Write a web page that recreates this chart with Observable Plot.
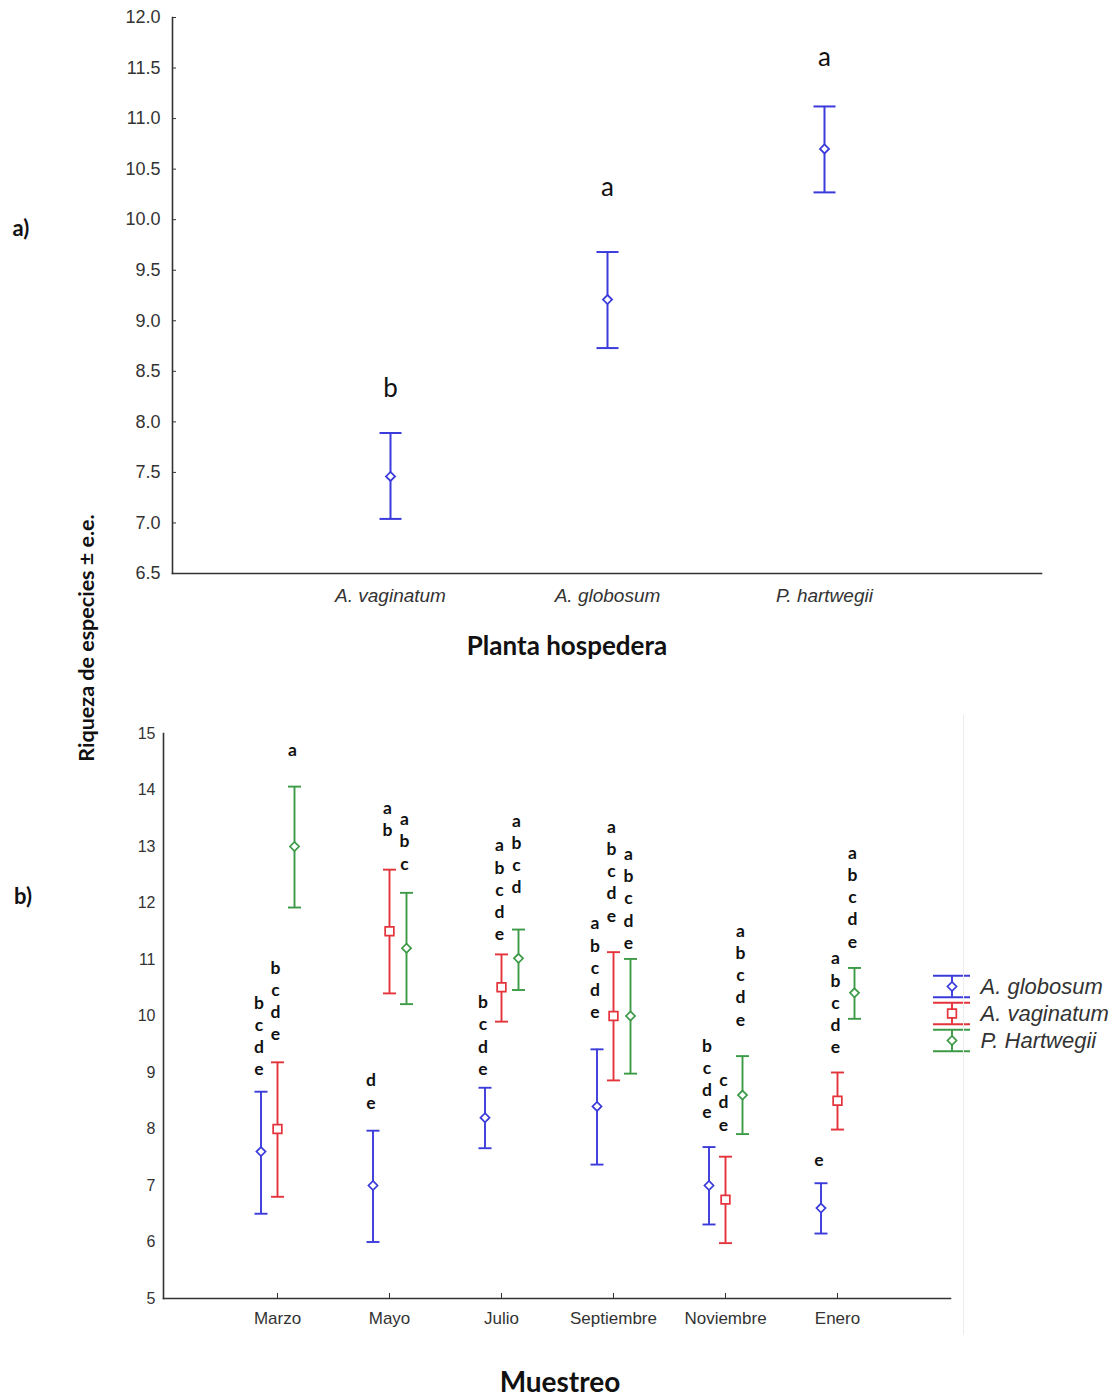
<!DOCTYPE html>
<html><head><meta charset="utf-8">
<script src="https://cdn.jsdelivr.net/npm/d3@7"></script>
<script src="https://cdn.jsdelivr.net/npm/@observablehq/plot@0.6"></script>
<style>
body{margin:0;background:#fff;}
#page{position:relative;width:1114px;height:1397px;overflow:hidden;background:#fff;}
#page svg{position:absolute;overflow:visible;}
.lbl{position:absolute;white-space:nowrap;line-height:1;font-family:Lato,"Open Sans",sans-serif;font-weight:700;color:#111;transform:translate(-50%,-50%);}
</style></head><body><div id="page"></div>
<script>
// ---------- data: panel a ----------
const hostPlants = ["A. vaginatum", "A. globosum", "P. hartwegii"];
const hostMean   = [7.46, 9.21, 10.70];
const hostUpper  = [7.89, 9.68, 11.12];
const hostLower  = [7.04, 8.73, 10.27];
const hostLetters = ["b", "a", "a"];
const hostLetterY = [8.33, 10.32, 11.60];
const hostTicks = [6.5, 7.0, 7.5, 8.0, 8.5, 9.0, 9.5, 10.0, 10.5, 11.0, 11.5, 12.0];

// ---------- data: panel b ----------
const months = ["Marzo", "Mayo", "Julio", "Septiembre", "Noviembre", "Enero"];
const seriesNames = ["A. globosum", "A. vaginatum", "P. Hartwegii"];
const globosumMean  = [7.60, 7.00, 8.20, 8.40, 7.00, 6.60];
const globosumUpper = [8.66, 7.97, 8.73, 9.41, 7.68, 7.04];
const globosumLower = [6.50, 6.00, 7.66, 7.37, 6.31, 6.15];
const vaginatumMean  = [8.00, 11.50, 10.51, 10.00, 6.75, 8.50];
const vaginatumUpper = [9.18, 12.59, 11.09, 11.13, 7.51, 9.00];
const vaginatumLower = [6.80, 10.40, 9.90, 8.86, 5.98, 7.99];
const hartwegiiMean  = [13.00, 11.20, 11.02, 10.00, 8.60, 10.41];
const hartwegiiUpper = [14.06, 12.18, 11.53, 11.01, 9.29, 10.85];
const hartwegiiLower = [11.92, 10.21, 10.46, 8.98, 7.91, 9.95];
const globosumLetters  = ["bcde", "de", "bcde", "abcde", "bcde", "e"];
const vaginatumLetters = ["bcde", "ab", "abcde", "abcde", "cde", "abcde"];
const hartwegiiLetters = ["a", "abc", "abcd", "abcde", "abcde", "abcde"];
const globosumLetterY  = [8.95, 8.36, 8.96, 9.96, 8.19, 7.35];
const vaginatumLetterY = [9.57, 13.18, 11.34, 11.67, 7.97, 9.34];
const hartwegiiLetterY = [14.61, 12.59, 12.17, 11.19, 9.83, 11.21];
const monthTicks = [5, 6, 7, 8, 9, 10, 11, 12, 13, 14, 15];

// ---------- styles ----------
const BLUE = "#3b3bdc", RED = "#e5333b", GREEN = "#3c9a46";
const AXIS = "#333";
const tickFont = "Liberation Sans, Arial, sans-serif";
const letterFont = "Lato, 'Open Sans', sans-serif";
const capSymbol = (hw) => ({draw(ctx) { ctx.moveTo(-hw, 0); ctx.lineTo(hw, 0); }});

const page = document.getElementById("page");
function place(svg, left, top) { svg.style.left = left + "px"; svg.style.top = top + "px"; page.appendChild(svg); }
function label(text, x, y, css) {
  const d = document.createElement("div"); d.className = "lbl"; d.textContent = text;
  d.style.left = x + "px"; d.style.top = y + "px"; Object.assign(d.style, css || {}); page.appendChild(d);
}

// ---------- panel a ----------
const dataA = hostPlants.map((p, i) => ({plant: p, mean: hostMean[i], upper: hostUpper[i], lower: hostLower[i], letter: hostLetters[i], letterY: hostLetterY[i]}));
const plotA = Plot.plot({
  width: 1114, height: 700, marginLeft: 172, marginRight: 73, marginTop: 17, marginBottom: 127,
  style: {fontFamily: tickFont, fontSize: "18px", color: AXIS, background: "transparent"},
  x: {type: "point", domain: hostPlants, padding: 1},
  y: {domain: [6.5, 12]},
  marks: [
    Plot.frame({anchor: "left", stroke: AXIS, strokeWidth: 1.6}),
    Plot.frame({anchor: "bottom", stroke: AXIS, strokeWidth: 1.6}),
    Plot.axisY({ticks: hostTicks, tickFormat: d3.format(".1f"), tickSize: -4, tickPadding: 16, fontSize: 18, label: null}),
    Plot.axisX({tickSize: 0, tickPadding: 15, fontSize: 19, fontStyle: "italic", label: null}),
    Plot.ruleX(dataA, {x: "plant", y1: "lower", y2: "upper", stroke: BLUE, strokeWidth: 2}),
    Plot.dot(dataA, {x: "plant", y: "upper", symbol: capSymbol(11), r: 1, fill: "none", stroke: BLUE, strokeWidth: 2}),
    Plot.dot(dataA, {x: "plant", y: "lower", symbol: capSymbol(11), r: 1, fill: "none", stroke: BLUE, strokeWidth: 2}),
    Plot.dot(dataA, {x: "plant", y: "mean", symbol: "diamond2", r: 4.1, fill: "white", stroke: BLUE, strokeWidth: 1.8}),
    Plot.text(dataA, {x: "plant", y: "letterY", text: "letter", fontSize: 26, fontFamily: letterFont, fill: "#111", lineAnchor: "middle"})
  ]
});
place(plotA, 0, 0);

// ---------- panel b ----------
const seriesCfg = [
  {mean: globosumMean, upper: globosumUpper, lower: globosumLower, letters: globosumLetters, letterY: globosumLetterY, color: BLUE, symbol: "diamond2", r: 4.1, dx: -16.5},
  {mean: vaginatumMean, upper: vaginatumUpper, lower: vaginatumLower, letters: vaginatumLetters, letterY: vaginatumLetterY, color: RED, symbol: "square", r: 4.9, dx: 0},
  {mean: hartwegiiMean, upper: hartwegiiUpper, lower: hartwegiiLower, letters: hartwegiiLetters, letterY: hartwegiiLetterY, color: GREEN, symbol: "diamond2", r: 4.1, dx: 17}
];
const marksB = [
  Plot.frame({anchor: "left", stroke: AXIS, strokeWidth: 1.6}),
  Plot.frame({anchor: "bottom", stroke: AXIS, strokeWidth: 1.6}),
  Plot.axisY({ticks: monthTicks, tickFormat: d => String(d), tickSize: 0, tickPadding: 8, fontSize: 16, label: null}),
  Plot.axisX({tickSize: -5, tickPadding: 18, fontSize: 17, label: null})
];
seriesCfg.forEach(s => {
  const data = months.map((m, i) => ({month: m, mean: s.mean[i], upper: s.upper[i], lower: s.lower[i], letters: s.letters[i], letterY: s.letterY[i]}));
  marksB.push(
    Plot.ruleX(data, {x: "month", y1: "lower", y2: "upper", dx: s.dx, stroke: s.color, strokeWidth: 1.9}),
    Plot.dot(data, {x: "month", y: "upper", dx: s.dx, symbol: capSymbol(6.5), r: 1, fill: "none", stroke: s.color, strokeWidth: 1.9}),
    Plot.dot(data, {x: "month", y: "lower", dx: s.dx, symbol: capSymbol(6.5), r: 1, fill: "none", stroke: s.color, strokeWidth: 1.9}),
    Plot.dot(data, {x: "month", y: "mean", dx: s.dx, symbol: s.symbol, r: s.r, fill: "white", stroke: s.color, strokeWidth: 1.7}),
    Plot.text(data, {x: "month", y: "letterY", dx: s.dx - 2, text: d => d.letters.split("").join("\n"), lineAnchor: "bottom", lineHeight: 1.27, fontSize: 17.5, fontWeight: "bold", fontFamily: letterFont, fill: "#111"})
  );
});
const plotB = Plot.plot({
  width: 1114, height: 697, marginLeft: 163, marginRight: 164, marginTop: 33, marginBottom: 99,
  style: {fontFamily: tickFont, fontSize: "16px", color: AXIS, background: "transparent"},
  x: {type: "point", domain: months, padding: 1},
  y: {domain: [5, 15]},
  marks: marksB
});
place(plotB, 0, 700);

// ---------- legend (panel b) ----------
const legendData = seriesNames.map((n, i) => ({name: n, i}));
const legendMarks = [];
seriesCfg.forEach((s, k) => {
  const d = [legendData[k]];
  legendMarks.push(
    Plot.ruleY(d, {y: e => e.i - 0.4, x1: 0, x2: 1, stroke: s.color, strokeWidth: 1.9}),
    Plot.ruleY(d, {y: e => e.i + 0.4, x1: 0, x2: 1, stroke: s.color, strokeWidth: 1.9}),
    Plot.ruleX(d, {x: 0.5, y1: e => e.i - 0.4, y2: e => e.i + 0.4, stroke: s.color, strokeWidth: 1.9}),
    Plot.dot(d, {x: 0.5, y: "i", symbol: s.symbol, r: s.r, fill: "white", stroke: s.color, strokeWidth: 1.7}),
    Plot.text(d, {x: 1, y: "i", dx: 10, text: "name", textAnchor: "start", fontSize: 22, fontStyle: "italic", fontFamily: tickFont, fill: "#333"})
  );
});
const legend = Plot.plot({
  width: 194, height: 106, marginLeft: 13, marginRight: 144, marginTop: 26, marginBottom: 26,
  style: {background: "transparent"},
  x: {domain: [0, 1], axis: null},
  y: {domain: [0, 2], reverse: true, axis: null},
  marks: legendMarks
});
place(legend, 920, 960);

// faint border line on right of panel b
const edge = document.createElement("div");
Object.assign(edge.style, {position: "absolute", left: "963px", top: "715px", width: "1px", height: "620px", background: "#ececec"});
page.appendChild(edge);

// ---------- text labels ----------
label("a)", 21, 228, {fontSize: "22px"});
label("b)", 23, 896, {fontSize: "22px"});
label("Planta hospedera", 567, 645, {fontSize: "26px"});
label("Muestreo", 560, 1381, {fontSize: "28px"});
label("Riqueza de especies ± e.e.", 87, 638, {fontSize: "21.5px", transform: "translate(-50%,-50%) rotate(-90deg)"});
</script></body></html>
